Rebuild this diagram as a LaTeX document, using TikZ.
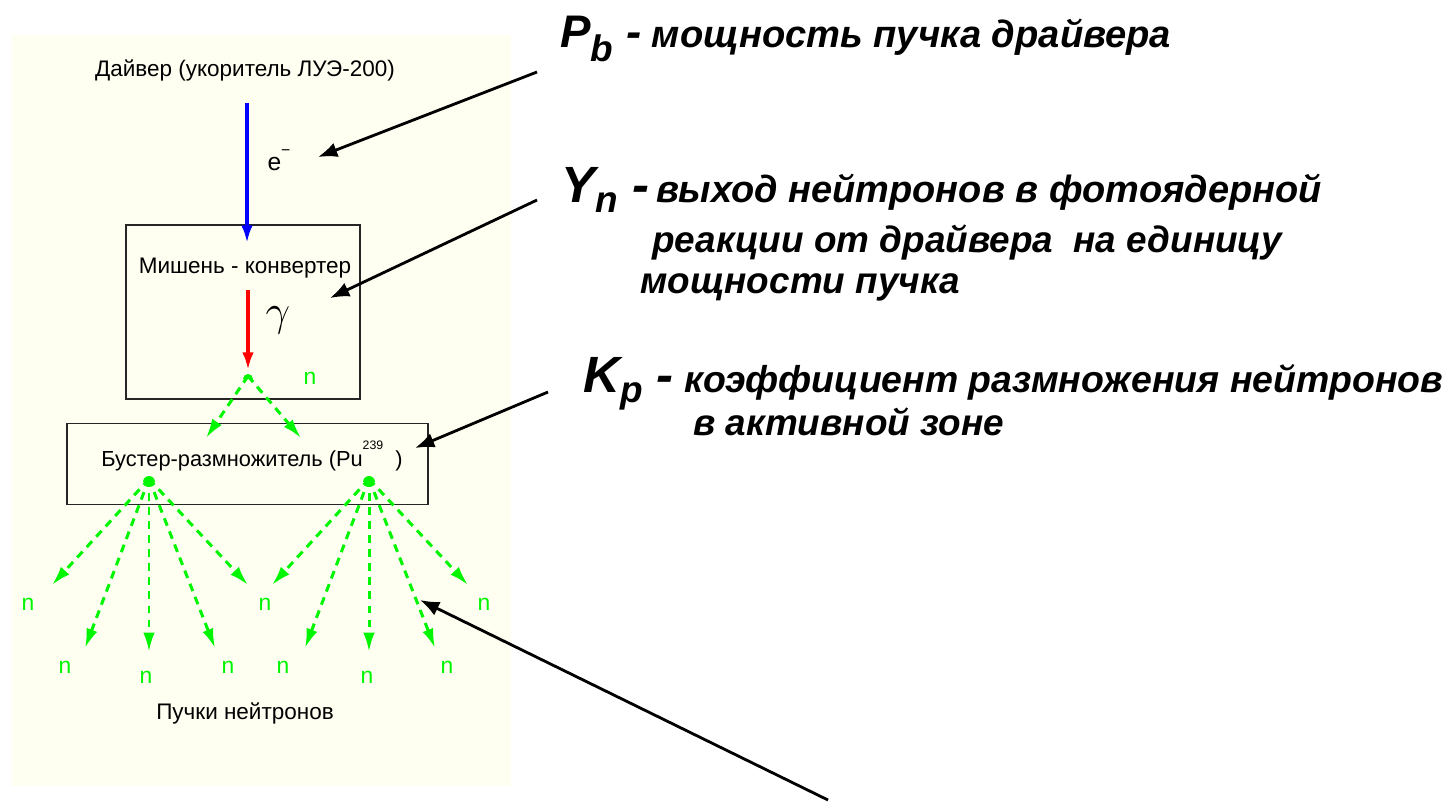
\documentclass[tikz,border=0pt]{standalone}
\usepackage{fontspec}
\setmainfont{Liberation Sans}
\usetikzlibrary{arrows.meta}

\definecolor{bgcream}{RGB}{254,254,241}
\definecolor{ngreen}{RGB}{0,245,0}

\tikzset{
  box_nd/.style={draw=black!85, line width=1pt, inner sep=0pt},
  plain_txt/.style={font=\fontsize{12.8}{15}\selectfont, inner sep=0pt},
  n_lbl/.style={text=ngreen, font=\fontsize{13}{15}\selectfont, inner sep=0pt},
  fan_arrow/.style={ngreen, line width=1.7pt, dash pattern=on 4.5pt off 3.5pt,
    -{Latex[length=11pt,width=6.5pt]}},
  note_txt/.style={anchor=base west, inner sep=0pt,
    font=\bfseries\itshape\fontsize{21}{25}\selectfont},
  pointer/.style={line width=1.6pt, -{Latex[length=11pt,width=8.5pt]}},
}

\begin{document}
\begin{tikzpicture}[
  x=0.02cm, y=-0.02cm,
  beam_e/.style={blue, line width=1.9pt, -{Latex[length=10pt,width=6.5pt]}},
  beam_g/.style={red, line width=1.9pt, -{Latex[length=10pt,width=6.5pt]}},
  ]

  \useasboundingbox (0,0) rectangle (1452,802);
  \fill[bgcream] (12,35) rectangle (511,786);

  % driver, converter, booster
  \node[plain_txt] (driver) at (245,70) {Дайвер (укоритель ЛУЭ-200)};
  \node[box_nd, minimum width=4.68cm, minimum height=3.48cm] (conv) at (243,312) {};
  \node[plain_txt] (conv_lbl) at (245,268) {Мишень - конвертер};
  \node[box_nd, minimum width=7.22cm, minimum height=1.62cm] (boost) at (247.5,464) {};
  \node[plain_txt, font=\fontsize{12.4}{15}\selectfont] (boost_lbl) at (252,456)
       {Бустер-размножитель (Pu\raisebox{1.5ex}{\fontsize{7}{8}\selectfont 239}\ \ )};
  \node[plain_txt] (beams_lbl) at (245,713) {Пучки нейтронов};

  \coordinate (e_start) at (247,103);
  \coordinate (e_end) at (247,243);
  \draw[beam_e] (e_start) -- (e_end);
  \node[inner sep=0pt, font=\fontsize{14}{16}\selectfont] (e_lbl) at (279,160) {e\raisebox{1.2ex}{\small −}};

  \coordinate (g_start) at (248,290);
  \coordinate (g_end) at (248,370);
  \draw[beam_g] (g_start) -- (g_end);
  \node[inner sep=0pt, font=\fontsize{24}{28}\selectfont] (g_lbl) at (278,320) {$\gamma$};

  % neutrons from the converter
  \coordinate (c_apex) at (248,376);
  \coordinate (c1) at (206,438);
  \coordinate (c2) at (301,438);
  \fill[ngreen] (c_apex) ++(-5,3) arc[start angle=180, end angle=360, radius=5] -- cycle;
  \draw[fan_arrow] (c_apex) -- (c1);
  \draw[fan_arrow] (c_apex) -- (c2);
  \node[n_lbl] (n_c) at (310,378) {n};

  % neutron fans out of the booster
  \coordinate (l_apex) at (149,479);
  \coordinate (r_apex) at (369,479);
  \fill[ngreen] (l_apex) ++(-6,3) arc[start angle=180, end angle=360, radius=6] -- cycle;
  \fill[ngreen] (r_apex) ++(-6,3) arc[start angle=180, end angle=360, radius=6] -- cycle;

  \foreach \Name/\px/\py in {l1/52/585, l2/85/648, l3/149/652, l4/215/648, l5/248/585,
                             r1/272/585, r2/305/648, r3/369/652, r4/435/648, r5/468/585}{
    \coordinate (\Name) at (\px,\py);
  }
  \foreach \Name in {l1,l2,l3,l4,l5}{
    \draw[fan_arrow] (l_apex) -- (\Name);
  }
  \foreach \Name in {r1,r2,r3,r4,r5}{
    \draw[fan_arrow] (r_apex) -- (\Name);
  }

  \foreach \Name/\px/\py in {n1/28/604, n2/65/667, n3/146/677, n4/228/667, n5/265/604,
                             n6/283/667, n7/367/677, n8/447/667, n9/484/604}{
    \node[n_lbl] (\Name) at (\px,\py) {n};
  }

  % notes on the right
  \node[note_txt, font=\bfseries\itshape\fontsize{21.7}{25}\selectfont] (pb_note) at (560,47)
       {{\fontsize{26}{30}\selectfont P\lower8pt\hbox{\fontsize{21}{22}\selectfont b} -} мощность пучка драйвера};
  \node[note_txt, font=\bfseries\itshape\fontsize{21.6}{25}\selectfont] (yn_note) at (561,202)
       {{\fontsize{29}{34}\selectfont Y\lower6pt\hbox{\fontsize{21}{22}\selectfont n} -}\hspace{4pt}выход нейтронов в фотоядерной};
  \node[note_txt] (yn_note2) at (652,252) {реакции от драйвера\ \ на единицу};
  \node[note_txt] (yn_note3) at (640,293) {мощности пучка};
  \node[note_txt, font=\bfseries\itshape\fontsize{21.3}{25}\selectfont] (kp_note) at (583,392)
       {{\fontsize{29}{34}\selectfont K\lower6pt\hbox{\fontsize{21}{22}\selectfont p} -} коэффициент размножения нейтронов};
  \node[note_txt] (kp_note2) at (693,435) {в активной зоне};

  \coordinate (pb_tail) at (537,72);
  \coordinate (pb_tip) at (318,157);
  \coordinate (yn_tail) at (537,200);
  \coordinate (yn_tip) at (330,298);
  \coordinate (kp_tail) at (548,392);
  \coordinate (kp_tip) at (415,448);
  \coordinate (fan_tail) at (828,800);
  \coordinate (fan_tip) at (420,600);
  \draw[pointer] (pb_tail) -- (pb_tip);
  \draw[pointer] (yn_tail) -- (yn_tip);
  \draw[pointer] (kp_tail) -- (kp_tip);
  \draw[pointer] (fan_tail) -- (fan_tip);

\end{tikzpicture}
\end{document}
